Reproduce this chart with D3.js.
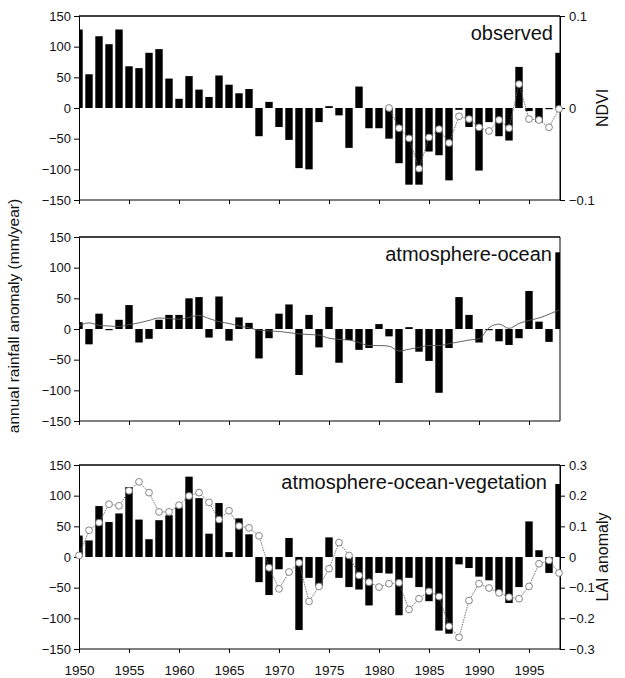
<!DOCTYPE html>
<html>
<head>
<meta charset="utf-8">
<script src="https://cdn.jsdelivr.net/npm/d3@7"></script>
<style>
  body { margin: 0; background: #fff; }
  svg text { font-family: "Liberation Sans", Arial, Helvetica, sans-serif; fill: #111; }
</style>
</head>
<body>
<div class="container"></div>
<script>
var w = 625;
var h = 678;

// years on the x axis
var years = [1950, 1951, 1952, 1953, 1954, 1955, 1956, 1957, 1958, 1959,
  1960, 1961, 1962, 1963, 1964, 1965, 1966, 1967, 1968, 1969,
  1970, 1971, 1972, 1973, 1974, 1975, 1976, 1977, 1978, 1979,
  1980, 1981, 1982, 1983, 1984, 1985, 1986, 1987, 1988, 1989,
  1990, 1991, 1992, 1993, 1994, 1995, 1996, 1997, 1998];
var yearTicks = [1950, 1955, 1960, 1965, 1970, 1975, 1980, 1985, 1990, 1995];
var rainTicks = [-150, -100, -50, 0, 50, 100, 150];
var ndviTicks = [-0.1, 0, 0.1];
var laiTicks = [-0.3, -0.2, -0.1, 0, 0.1, 0.2, 0.3];

// rainfall anomaly, mm/year
var observedRain = [128, 55, 117, 104, 128, 68, 65, 90, 96, 48,
  15, 52, 30, 18, 53, 38, 24, 31, -46, 10,
  -31, -52, -98, -100, -23, 3, -12, -65, 35, -33,
  -33, -50, -90, -125, -125, -71, -77, -118, -3, -31,
  -102, -23, -46, -53, 67, -5, -23, 0, 90];
var aoRain = [11, -25, 25, -1, 15, 39, -22, -16, 15, 23,
  23, 50, 52, -14, 53, -19, 19, 10, -48, -15,
  25, 40, -75, 23, -30, 36, -55, -18, -34, -31,
  8, -12, -88, 3, -37, -52, -104, -31, 52, 23,
  -22, -2, -20, -26, -15, 62, 12, -21, 125];
var aoSmooth = [5, 10, 6, 5, 4, 7, 10, 14, 18, 17,
  16, 19, 22, 17, 12, 9, 5, 2, -2, -3,
  -4, -6, -8, -9, -10, -15, -17, -18, -22, -27,
  -27, -28, -36, -33, -30, -27, -27, -24, -21, -18,
  -16, 2, 8, 1, 9, 14, 18, 24, 31];
var aovRain = [35, 27, 83, 57, 71, 114, 61, 29, 60, 68,
  81, 131, 96, 38, 88, 8, 63, 37, -41, -62,
  -20, 31, -119, -34, -47, 32, -34, -49, -53, -79,
  -26, -27, -95, -34, -49, -72, -120, -125, -12, -18,
  -32, -38, -57, -75, -49, 58, 11, -26, 119];

// NDVI (observed, 1981-1998)
var ndviYears = [1981, 1982, 1983, 1984, 1985, 1986, 1987, 1988, 1989,
  1990, 1991, 1992, 1993, 1994, 1995, 1996, 1997, 1998];
var ndvi = [0, -0.022, -0.033, -0.066, -0.032, -0.023, -0.038, -0.009, -0.012,
  -0.021, -0.025, -0.013, -0.022, 0.026, -0.012, -0.013, -0.021, -0.001];

// LAI anomaly (atmosphere-ocean-vegetation)
var lai = [0.005, 0.087, 0.112, 0.172, 0.167, 0.216, 0.245, 0.21, 0.147, 0.147,
  0.169, 0.199, 0.21, 0.178, 0.122, 0.151, 0.101, 0.095, 0.069, -0.035,
  -0.104, -0.049, -0.019, -0.145, -0.096, -0.038, 0.047, 0.005, -0.06, -0.082,
  -0.098, -0.087, -0.084, -0.171, -0.136, -0.112, -0.129, -0.226, -0.262, -0.142,
  -0.087, -0.101, -0.117, -0.131, -0.136, -0.096, -0.022, -0.011, -0.052];

var left = 79, right = 560, panelH = 184;
var panels = [
  { top: 16, title: "observed", bars: observedRain, titleX: 553, titleY: 40,
    right: { ticks: ndviTicks, domain: [-0.1, 0.1], label: "NDVI", years: ndviYears, values: ndvi } },
  { top: 237, title: "atmosphere-ocean", bars: aoRain, titleX: 552, titleY: 261, smooth: aoSmooth },
  { top: 465, title: "atmosphere-ocean-vegetation", bars: aovRain, titleX: 547, titleY: 489,
    right: { ticks: laiTicks, domain: [-0.3, 0.3], label: "LAI anomaly", years: years, values: lai } }
];

var svg = d3.select(".container")
  .append("svg")
  .attr("width", w)
  .attr("height", h);

var xScale = d3.scaleLinear().domain([1950, 1998.1]).range([left, right]);
var barW = 7.4;

panels.forEach(function (p, i) {
  var yScale = d3.scaleLinear().domain([-150, 150]).range([p.top + panelH, p.top]);
  var g = svg.append("g");

  g.append("clipPath").attr("id", "clip" + i)
    .append("rect")
    .attr("x", left).attr("y", p.top)
    .attr("width", right - left).attr("height", panelH);

  // bars
  g.append("g")
    .attr("clip-path", "url(#clip" + i + ")")
    .selectAll("rect")
    .data(p.bars)
    .enter()
    .append("rect")
    .attr("x", (d, j) => xScale(years[j]) - barW / 2)
    .attr("width", barW)
    .attr("y", d => yScale(Math.max(0, d)))
    .attr("height", d => Math.max(1.2, Math.abs(yScale(d) - yScale(0))))
    .attr("fill", "#000");

  // frame
  g.append("line").attr("x1", left).attr("x2", right).attr("y1", p.top).attr("y2", p.top)
    .attr("stroke", "#000").attr("stroke-width", 1.3);
  g.append("line").attr("x1", right).attr("x2", right).attr("y1", p.top).attr("y2", p.top + panelH)
    .attr("stroke", "#000").attr("stroke-width", 1);

  // left axis
  var yAxis = d3.axisLeft(yScale).tickValues(rainTicks).tickSize(5).tickPadding(3);
  var ya = g.append("g").attr("transform", "translate(" + left + ",0)").call(yAxis);
  ya.selectAll("text").attr("font-size", 13);

  // bottom axis
  var xAxis = d3.axisBottom(xScale).tickValues(yearTicks).tickSize(4).tickPadding(12)
    .tickFormat(i === 2 ? d3.format("d") : "");
  var xa = g.append("g").attr("transform", "translate(0," + (p.top + panelH) + ")").call(xAxis);
  xa.select(".domain").attr("d", "M" + left + ",0H" + right);
  xa.selectAll("text").attr("font-size", 13.5);

  svg.selectAll(".domain").attr("stroke", "#000");

  // title
  g.append("text")
    .attr("x", p.titleX).attr("y", p.titleY)
    .attr("text-anchor", "end")
    .attr("font-size", 20)
    .text(p.title);

  // smooth line (atmosphere-ocean)
  if (p.smooth) {
    var line = d3.line()
      .x((d, j) => xScale(years[j]))
      .y(d => yScale(d))
      .curve(d3.curveMonotoneX);
    g.append("path")
      .datum(p.smooth)
      .attr("d", line)
      .attr("fill", "none")
      .attr("stroke", "#555")
      .attr("stroke-width", 0.9);
  }

  // right axis with dotted line and open markers
  if (p.right) {
    var r = p.right;
    var y2 = d3.scaleLinear().domain(r.domain).range([p.top + panelH, p.top]);
    var ra = g.append("g").attr("transform", "translate(" + right + ",0)")
      .call(d3.axisRight(y2).tickValues(r.ticks).tickSize(5).tickPadding(4).tickFormat(d3.format("")));
    ra.selectAll("text").attr("font-size", 13);

    g.append("text")
      .attr("transform", "translate(608," + (p.top + panelH / 2) + ") rotate(-90)")
      .attr("text-anchor", "middle")
      .attr("font-size", 16)
      .text(r.label);

    var l2 = d3.line()
      .x((d, j) => xScale(r.years[j]))
      .y(d => y2(d));
    g.append("path")
      .datum(r.values)
      .attr("d", l2)
      .attr("fill", "none")
      .attr("stroke", "#666")
      .attr("stroke-width", 0.9)
      .attr("stroke-dasharray", "1.5,1");

    g.selectAll(".marker")
      .data(r.values)
      .enter()
      .append("circle")
      .attr("cx", (d, j) => xScale(r.years[j]))
      .attr("cy", d => y2(d))
      .attr("r", 3.4)
      .attr("fill", "#fff")
      .attr("stroke", "#777")
      .attr("stroke-width", 0.9);
  }
});

// shared y label
svg.append("text")
  .attr("transform", "translate(19,316) rotate(-90)")
  .attr("text-anchor", "middle")
  .attr("font-size", 15.5)
  .text("annual rainfall anomaly (mm/year)");
</script>
</body>
</html>
